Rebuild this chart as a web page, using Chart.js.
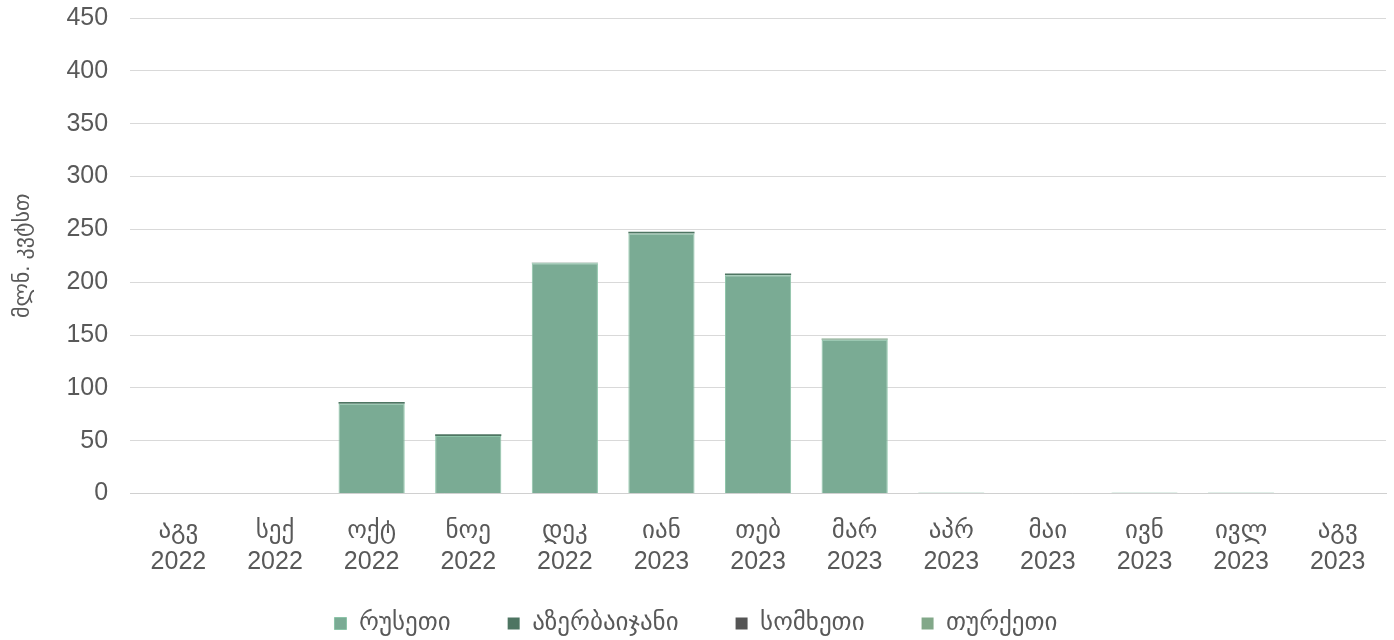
<!DOCTYPE html>
<html>
<head>
<meta charset="utf-8">
<script src="https://cdn.jsdelivr.net/npm/chart.js@4"></script>
<style>
  body { margin: 0; background: #fff; }
  #wrap { width: 1394px; height: 640px; position: relative; }
</style>
</head>
<body>
<div id="wrap"><canvas id="myChart"></canvas></div>
<script>
// months (label lines: month / year)
var months = [
  ["აგვ", "2022"], ["სექ", "2022"], ["ოქტ", "2022"], ["ნოე", "2022"],
  ["დეკ", "2022"], ["იან", "2023"], ["თებ", "2023"], ["მარ", "2023"],
  ["აპრ", "2023"], ["მაი", "2023"], ["ივნ", "2023"], ["ივლ", "2023"],
  ["აგვ", "2023"]
];

// import by country, mln kWh
var russia     = [0, 0, 85, 54.5, 218, 246, 206.5, 145.5, 0.9, 0, 0.9, 0.9, 0];
var azerbaijan = [0, 0, 1.6, 1.6, 0.3, 1.6, 1.6, 0.3, 0, 0, 0, 0, 0];
var armenia    = [0, 0, 0, 0, 0, 0, 0, 0, 0, 0, 0, 0, 0];
var turkey     = [0, 0, 0, 0, 0, 0, 0, 0.8, 0, 0, 0, 0, 0];

var FONT = "'Liberation Sans', 'DejaVu Sans', sans-serif";
var TXT = '#595959';
var X_SHRINK = 46;

var data = {
  labels: months,
  datasets: [
    { label: 'რუსეთი', data: russia, backgroundColor: '#7aab94', borderColor: '#8cc4a8', borderWidth: 1 },
    { label: 'აზერბაიჯანი', data: azerbaijan, backgroundColor: '#4e7562', borderColor: '#4e7562', borderWidth: 0 },
    { label: 'სომხეთი', data: armenia, backgroundColor: '#555555', borderColor: '#555555', borderWidth: 0 },
    { label: 'თურქეთი', data: turkey, backgroundColor: '#82a889', borderColor: '#82a889', borderWidth: 0 }
  ]
};

// give the x labels their full box back after layout so they aren't clipped
var unclipX = {
  id: 'unclipX',
  afterLayout: function(chart) { chart.scales.x.bottom += X_SHRINK; }
};

var options = {
  responsive: true,
  maintainAspectRatio: false,
  animation: false,
  layout: { padding: { left: 6, right: 8, top: 18, bottom: -6 } },
  datasets: { bar: { categoryPercentage: 0.685, barPercentage: 1 } },
  plugins: {
    tooltip: { enabled: false },
    legend: {
      position: 'bottom',
      labels: {
        boxWidth: 12, boxHeight: 12, padding: 57,
        color: TXT,
        font: { family: FONT, size: 25 }
      }
    }
  },
  scales: {
    x: {
      stacked: true,
      grid: { display: false, drawTicks: false },
      border: { color: '#d0d0d0' },
      ticks: { color: TXT, font: { family: FONT, size: 25, lineHeight: 1.25 }, padding: 22, maxRotation: 0, autoSkip: false },
      afterFit: function(scale) { scale.height -= X_SHRINK; }
    },
    y: {
      stacked: true,
      min: 0, max: 450,
      grid: { color: '#d9d9d9', drawTicks: true, tickLength: 22, tickColor: 'rgba(0,0,0,0)' },
      border: { display: false },
      ticks: { stepSize: 50, color: TXT, font: { family: FONT, size: 25 }, padding: 0 },
      title: { display: true, text: 'მლნ. კვტსთ', color: TXT, font: { family: FONT, size: 22 }, padding: { top: 4, bottom: 30 } }
    }
  }
};

var ctx = document.getElementById('myChart').getContext('2d');
var chart = new Chart(ctx, { type: 'bar', data: data, options: options, plugins: [unclipX] });
</script>
</body>
</html>
